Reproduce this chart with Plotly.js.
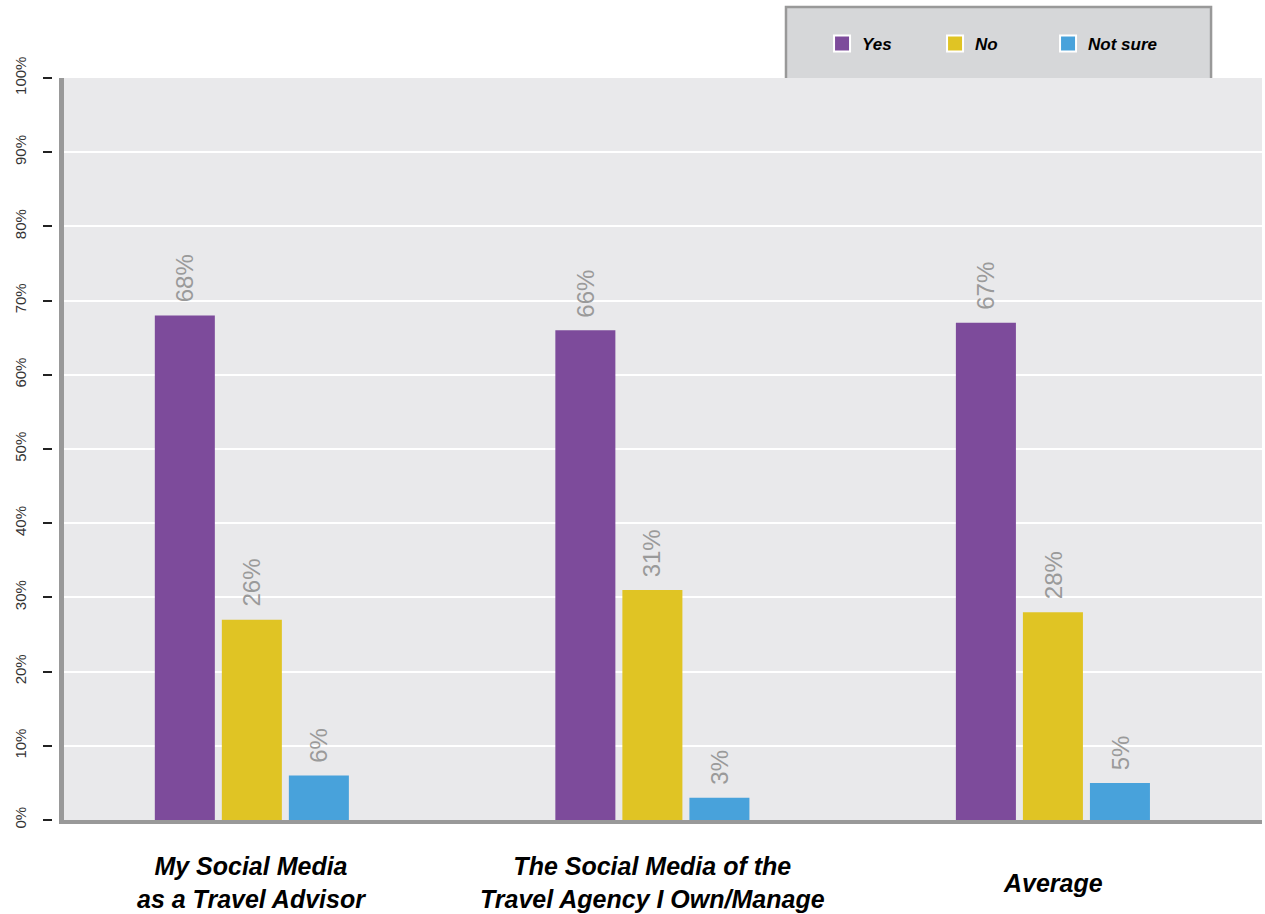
<!DOCTYPE html>
<html>
<head>
<meta charset="utf-8">
<script src="https://cdn.plot.ly/plotly-3.0.1.min.js"></script>
<style>html,body{margin:0;padding:0;background:#fff;}#chart{width:1265px;height:914px;}</style>
</head>
<body>
<div id="chart"></div>
<script>
const categories = ["My Social Media<br>as a Travel Advisor", "The Social Media of the<br>Travel Agency I Own/Manage", "Average"];
const seriesNames = ["Yes", "No", "Not sure"];
const yesValues = [68, 66, 67];
const noValues = [27, 31, 28];
const notSureValues = [6, 3, 5];
const yesLabels = ["68%", "66%", "67%"];
const noLabels = ["26%", "31%", "28%"];
const notSureLabels = ["6%", "3%", "5%"];
const tickValues = [0, 10, 20, 30, 40, 50, 60, 70, 80, 90, 100];
const tickLabels = ["0%", "10%", "20%", "30%", "40%", "50%", "60%", "70%", "80%", "90%", "100%"];

const colors = ["#7d4b9b", "#e0c424", "#48a2db"];
const seriesValues = [yesValues, noValues, notSureValues];
const seriesLabels = [yesLabels, noLabels, notSureLabels];
const xShifts = [-67, 0, 67];

const traces = [];
seriesValues.forEach((vals, s) => {
  traces.push({
    type: "bar", name: seriesNames[s], x: categories, y: vals,
    marker: {color: colors[s]}, showlegend: false, hoverinfo: "skip"
  });
});
seriesNames.forEach((n, s) => {
  traces.push({
    type: "scatter", mode: "markers", name: n, x: [null], y: [null],
    marker: {symbol: "square", size: 19, color: colors[s], line: {color: "#ffffff", width: 2}},
    showlegend: true, hoverinfo: "skip"
  });
});
// invisible trace to carry the tick axis
traces.push({type: "scatter", mode: "markers", x: categories, y: yesValues, yaxis: "y2",
  marker: {opacity: 0}, showlegend: false, hoverinfo: "skip"});

const annotations = [];
seriesValues.forEach((vals, s) => {
  vals.forEach((v, i) => {
    annotations.push({
      x: categories[i], y: v, xref: "x", yref: "y", xshift: xShifts[s], yshift: 11,
      yanchor: "bottom", xanchor: "center", textangle: -90, showarrow: false,
      text: seriesLabels[s][i], font: {family: "Liberation Sans, Arial, sans-serif", size: 24, color: "#9a9a9a"}
    });
  });
});
categories.forEach((c) => {
  annotations.push({
    x: c, y: -0.0845, xref: "x", yref: "paper", yanchor: "middle", xanchor: "center",
    showarrow: false, text: c,
    font: {family: "Liberation Sans, Arial, sans-serif", size: 25, color: "#000", weight: "bold", style: "italic"}
  });
});

const layout = {
  width: 1265, height: 914,
  margin: {l: 10, r: 3, t: 78, b: 94, pad: 0, autoexpand: false},
  paper_bgcolor: "#ffffff", plot_bgcolor: "#e9e9eb",
  barmode: "group", bargap: 0.498, bargroupgap: 0.1045,
  showlegend: true,
  legend: {
    orientation: "h", x: 0.6486, xanchor: "left", y: 1.0458, yanchor: "middle",
    bgcolor: "rgba(0,0,0,0)", borderwidth: 0, entrywidth: 68, entrywidthmode: "pixels",
    font: {family: "Liberation Sans, Arial, sans-serif", size: 17, color: "#000", weight: "bold", style: "italic"}
  },
  xaxis: {
    type: "category", domain: [0.04313, 1], range: [-0.469, 2.522],
    showline: true, linecolor: "#999999", linewidth: 4, showgrid: false, zeroline: false,
    ticks: "", showticklabels: false, fixedrange: true
  },
  yaxis: {
    range: [0, 100], tickvals: tickValues, showgrid: true, gridcolor: "#ffffff", gridwidth: 2,
    showline: true, linecolor: "#999999", linewidth: 5, zeroline: false,
    ticks: "", showticklabels: false, fixedrange: true
  },
  yaxis2: {
    overlaying: "y", anchor: "free", position: 0.03315, side: "left",
    range: [0, 100], tickvals: tickValues, ticktext: tickLabels,
    ticks: "outside", ticklen: 9, tickwidth: 2, tickcolor: "#222222",
    showgrid: false, showline: false, zeroline: false, tickangle: -90,
    ticklabelstandoff: 11,
    tickfont: {family: "Liberation Sans Narrow, Liberation Sans, Arial, sans-serif", size: 15, color: "#333333"},
    fixedrange: true
  },
  shapes: [{
    type: "path", xref: "paper", yref: "paper", layer: "below",
    path: "M 0.6198 1.0 L 0.6198 1.0957 L 0.9593 1.0957 L 0.9593 1.0",
    fillcolor: "#d6d7d9", line: {color: "#999999", width: 2.5}
  }],
  annotations: annotations
};

Plotly.newPlot("chart", traces, layout, {displayModeBar: false, staticPlot: true});
</script>
</body>
</html>
